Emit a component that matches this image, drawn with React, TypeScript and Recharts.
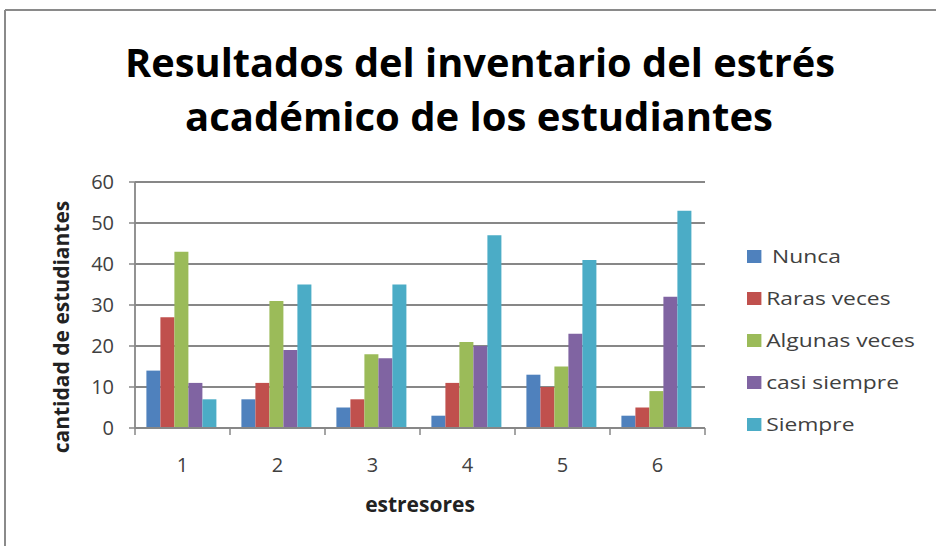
import React from 'react';
import { BarChart, Bar, XAxis, YAxis, CartesianGrid, Legend } from 'recharts';

const categories = ['1', '2', '3', '4', '5', '6'];
const nunca = [14, 7, 5, 3, 13, 3];
const rarasVeces = [27, 11, 7, 11, 10, 5];
const algunasVeces = [43, 31, 18, 21, 15, 9];
const casiSiempre = [11, 19, 17, 20, 23, 32];
const siempre = [7, 35, 35, 47, 41, 53];
const yTicks = [0, 10, 20, 30, 40, 50, 60];

const seriesNames = [' Nunca', 'Raras veces', 'Algunas veces', 'casi siempre', 'Siempre'];
const seriesKeys = ['nunca', 'raras', 'algunas', 'casi', 'siempre'];
const seriesColors = ['#4F81BD', '#C0504D', '#9BBB59', '#8064A2', '#4BACC6'];
const seriesValues = [nunca, rarasVeces, algunasVeces, casiSiempre, siempre];

const titleLines = ['Resultados del inventario del estrés', 'académico de los estudiantes'];
const xTitle = 'estresores';
const yTitle = 'cantidad de estudiantes';

const data = categories.map((name, i) => {
  const row: Record<string, string | number> = { name };
  seriesKeys.forEach((k, s) => {
    row[k] = seriesValues[s][i];
  });
  return row;
});

const FONT = '"Open Sans", "DejaVu Sans", sans-serif';
const GRID = '#878787';
const TICK_MARGIN = 30;

const LegendContent = () => (
  <div style={{ fontFamily: FONT, fontSize: 19, color: '#404040', transform: 'scaleX(1.2)', transformOrigin: 'left top' }}>
    {seriesNames.map((n, i) => (
      <div key={n} style={{ display: 'flex', alignItems: 'center', height: 42 }}>
        <span style={{ display: 'inline-block', width: 12, height: 13, background: seriesColors[i], marginRight: 4 }} />
        <span style={{ whiteSpace: 'pre' }}>{n}</span>
      </div>
    ))}
  </div>
);

const CategoryTick = (props: any) => {
  const { x, y, payload, index, visibleTicksCount } = props;
  const half = payload.offset || 0;
  const axisY = y - TICK_MARGIN;
  const isLast = index === (visibleTicksCount ?? categories.length) - 1;
  return (
    <g>
      <line x1={x - half} x2={x - half} y1={axisY} y2={axisY + 7} stroke={GRID} strokeWidth={1.5} />
      {isLast && <line x1={x + half} x2={x + half} y1={axisY} y2={axisY + 7} stroke={GRID} strokeWidth={1.5} />}
      <text x={x} y={y} dy="0.71em" textAnchor="middle" fontSize={20} fill="#404040" fontFamily={FONT}>
        {payload.value}
      </text>
    </g>
  );
};

export default function App() {
  return (
    <div style={{ position: 'absolute', left: 0, top: 0, width: 936, height: 546, background: '#fff' }}>
      <BarChart
        width={936}
        height={546}
        data={data}
        margin={{ top: 182, right: 231, left: 75, bottom: 88 }}
        barCategoryGap="12%"
        barGap={0}
      >
        <CartesianGrid vertical={false} stroke={GRID} strokeWidth={1.8} />
        <XAxis
          dataKey="name"
          tickSize={0}
          tickMargin={TICK_MARGIN}
          height={30}
          axisLine={{ stroke: GRID, strokeWidth: 1.8 }}
          tickLine={false}
          tick={<CategoryTick />}
        />
        <YAxis
          domain={[0, 60]}
          ticks={yTicks}
          width={60}
          tickSize={6}
          tickMargin={15}
          axisLine={{ stroke: GRID, strokeWidth: 1.8 }}
          tickLine={{ stroke: GRID, strokeWidth: 1.5 }}
          tick={{ fontSize: 20, fill: '#404040', fontFamily: FONT }}
        />
        <Legend
          layout="horizontal"
          verticalAlign="middle"
          align="center"
          content={<LegendContent />}
          wrapperStyle={{ position: 'absolute', left: 747, top: 235, width: 190 }}
        />
        {seriesKeys.map((k, i) => (
          <Bar key={k} dataKey={k} name={seriesNames[i]} fill={seriesColors[i]} isAnimationActive={false} />
        ))}
      </BarChart>
      <svg width={936} height={546} style={{ position: 'absolute', left: 0, top: 0, pointerEvents: 'none' }}>
        <line x1={5} y1={10} x2={936} y2={10} stroke="#8a8a8a" strokeWidth={2} />
        <line x1={5} y1={10} x2={5} y2={546} stroke="#8a8a8a" strokeWidth={2} />
        <text x={480} y={77} textAnchor="middle" fontFamily={FONT} fontWeight="bold" fontSize={40} fill="#000" textLength={710} lengthAdjust="spacingAndGlyphs">
          {titleLines[0]}
        </text>
        <text x={479} y={131} textAnchor="middle" fontFamily={FONT} fontWeight="bold" fontSize={40} fill="#000" textLength={588} lengthAdjust="spacingAndGlyphs">
          {titleLines[1]}
        </text>
        <text x={420} y={512} textAnchor="middle" fontFamily={FONT} fontWeight="bold" fontSize={21} fill="#222">
          {xTitle}
        </text>
        <text x={62} y={327} dy="0.35em" textAnchor="middle" fontFamily={FONT} fontWeight="bold" fontSize={21} fill="#222" transform="rotate(-90 62 327)">
          {yTitle}
        </text>
      </svg>
    </div>
  );
}
